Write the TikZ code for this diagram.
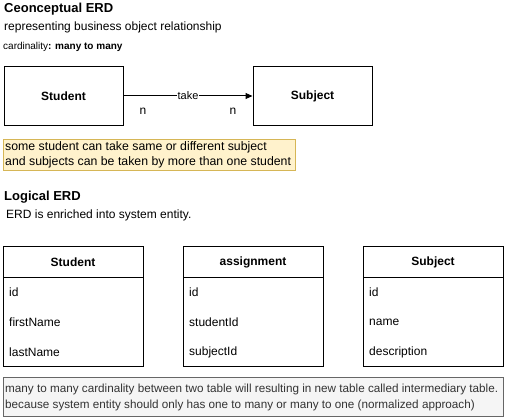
\documentclass[tikz,border=0pt]{standalone}
\usepackage{fontspec}
\setmainfont{Liberation Sans}
\usetikzlibrary{arrows.meta}
\definecolor{notefill}{HTML}{FFF2CC}
\definecolor{noteline}{HTML}{D6B656}
\definecolor{grayfill}{HTML}{F5F5F5}
\definecolor{grayline}{HTML}{666666}
\definecolor{graytext}{HTML}{333333}
\tikzset{
  x=1pt, y=-1pt,
  ent/.style={draw, line width=1pt, minimum width=119pt, minimum height=58pt, inner sep=0pt, font=\fontsize{12}{14}\selectfont\bfseries},
  tbox/.style={draw, line width=1pt, minimum width=140pt, minimum height=120pt, inner sep=0pt},
  thead/.style={font=\fontsize{12}{14}\selectfont\bfseries, anchor=center},
  field/.style={font=\fontsize{12}{14}\selectfont, anchor=west, inner sep=0pt},
  lbl/.style={anchor=west, inner sep=0pt},
}
\begin{document}
\begin{tikzpicture}
\useasboundingbox (0,0) rectangle (524,417);
% headings
\node[lbl, font=\fontsize{13}{16}\selectfont\bfseries] (t1) at (4,9) {Ceonceptual ERD};
\node[lbl, font=\fontsize{12}{14}\selectfont] (t2) at (4,27) {representing business object relationship};
\node[lbl, font=\fontsize{10}{12}\selectfont] (t3) at (3,47) {cardinality\textbf{: many to many}};
% conceptual entities
\node[ent] (stu) at (63.5,96) {Student};
\node[ent] (sub) at (312.5,96) {Subject};
\draw[line width=1pt, -{Triangle[length=7pt,width=6pt]}] (stu.east) -- (sub.west)
  node[midway, fill=white, inner sep=0.5pt, font=\fontsize{11}{13}\selectfont] (take) {take};
\node[font=\fontsize{12}{14}\selectfont] (n1) at (143,111) {n};
\node[font=\fontsize{12}{14}\selectfont] (n2) at (233,111) {n};
% yellow note
\node[draw=noteline, fill=notefill, anchor=north west, minimum width=292pt, minimum height=31pt, inner sep=0pt] (note1) at (3,139) {};
\node[lbl, font=\fontsize{12.3}{14}\selectfont] (note1a) at (5,147) {some student can take same or different subject};
\node[lbl, font=\fontsize{12.3}{14}\selectfont] (note1b) at (5,162) {and subjects can be taken by more than one student};
% logical
\node[lbl, font=\fontsize{13}{16}\selectfont\bfseries] (t4) at (4,197) {Logical ERD};
\node[lbl, font=\fontsize{12}{14}\selectfont] (t5) at (6,215) {ERD is enriched into system entity.};
% tables
\foreach \nm/\xl/\title/\fa/\fb/\fc in {tstu/3/Student/id/firstName/lastName, tasg/183/assignment/id/studentId/subjectId, tsub/363/Subject/id/name/description}{
  \node[tbox, anchor=north west] (\nm) at (\xl,246) {};
  \draw[line width=1pt] (\xl,277) -- (\xl+140,277);
  \node[thead] (\nm h) at (\xl+70,262) {\title};
  \node[field] (\nm a) at (\xl+6,292) {\fa};
  \node[field] (\nm b) at (\xl+6,322) {\fb};
  \node[field] (\nm c) at (\xl+6,352) {\fc};
}
% gray note
\node[draw=grayline, fill=grayfill, anchor=north west, minimum width=500pt, minimum height=39pt, inner sep=0pt] (note2) at (3,377) {};
\node[lbl, text=graytext, font=\fontsize{11.7}{14}\selectfont] (note2a) at (5,389) {many to many cardinality between two table will resulting in new table called intermediary table.};
\node[lbl, text=graytext, font=\fontsize{11.7}{14}\selectfont] (note2b) at (5,405) {because system entity should only has one to many or many to one (normalized approach)};
\end{tikzpicture}
\end{document}
